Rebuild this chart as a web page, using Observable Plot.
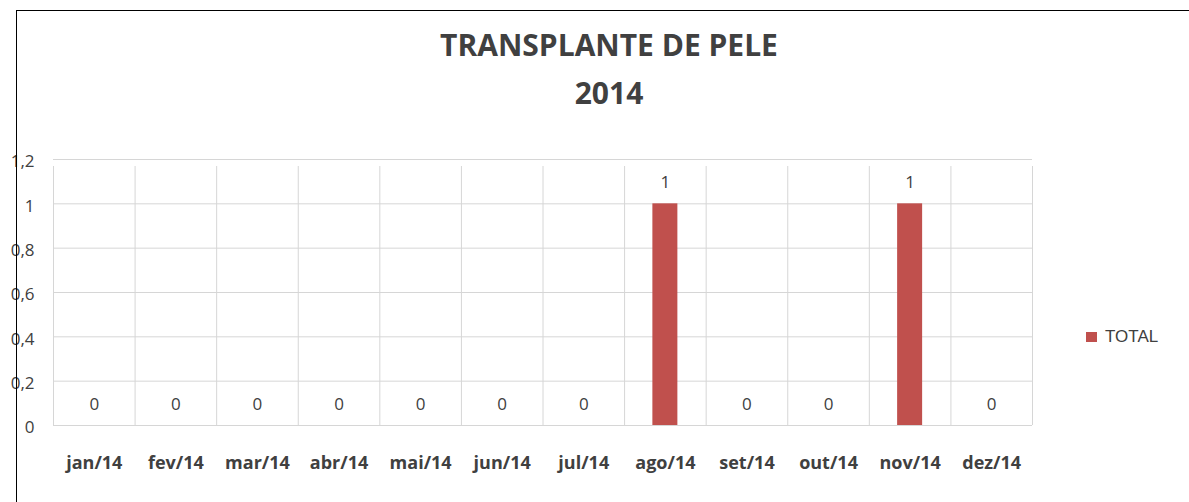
<!DOCTYPE html>
<html>
<head>
<meta charset="utf-8">
<script src="https://cdn.jsdelivr.net/npm/d3@7"></script>
<script src="https://cdn.jsdelivr.net/npm/@observablehq/plot@0.6"></script>
<style>
  html, body { margin: 0; padding: 0; background: #fff; }
  #wrap { position: relative; width: 1189px; height: 502px; overflow: hidden; font-family: "Open Sans", sans-serif; }
  #border { position: absolute; left: 16px; top: 10px; width: 1200px; height: 520px; border-left: 1px solid #000; border-top: 1px solid #000; box-sizing: border-box; pointer-events: none; z-index: 2; }
  .title { position: absolute; left: 0; width: 1218px; text-align: center; font-weight: bold; font-size: 30px; color: #404040; line-height: 1; }
  #legend { position: absolute; left: 1086px; top: 332px; height: 10px; display: flex; align-items: center; font-family: "Liberation Sans", Arial, sans-serif; font-size: 17px; color: #404040; }
  #legend .sw { width: 11px; height: 10px; margin-right: 8px; }
  #chart { position: absolute; left: 0; top: 0; }
</style>
</head>
<body>
<div id="wrap">
  <div id="chart"></div>
  <div class="title" style="top:30px">TRANSPLANTE DE PELE</div>
  <div class="title" style="top:78px">2014</div>
  <div id="legend"></div>
  <div id="border"></div>
</div>
<script>
const months = ["jan/14","fev/14","mar/14","abr/14","mai/14","jun/14","jul/14","ago/14","set/14","out/14","nov/14","dez/14"];
const totals = [0,0,0,0,0,0,0,1,0,0,1,0];
const yTicks = [0,0.2,0.4,0.6,0.8,1,1.2];
const seriesName = "TOTAL";
const barColor = "#C0504D";

const data = months.map((m, i) => ({month: m, total: totals[i]}));

const W = 1189, H = 502;
const mL = 53, mR = W - 1032, mT = 159, mB = H - 425;
const bw = (W - mL - mR) / months.length;
const fmt = v => String(v).replace(".", ",");

const chart = Plot.plot({
  width: W,
  height: H,
  marginLeft: mL,
  marginRight: mR,
  marginTop: mT,
  marginBottom: mB,
  style: {fontFamily: "'Open Sans', sans-serif", color: "#404040", background: "transparent"},
  x: {type: "band", domain: months, padding: 0, round: false, label: null},
  y: {domain: [0, 1.2], label: null},
  marks: [
    Plot.ruleY(yTicks, {y: d => d, stroke: "#d6d6d6", strokeWidth: 1}),
    Plot.ruleX(months, {x: d => d, y1: 0, y2: 1.2, dx: -bw / 2, insetBottom: -7, stroke: "#d6d6d6", strokeWidth: 1}),
    Plot.ruleX([months[months.length - 1]], {x: d => d, y1: 0, y2: 1.2, dx: bw / 2, insetBottom: -7, stroke: "#d6d6d6", strokeWidth: 1}),
    Plot.barY(data, {x: "month", y: "total", fill: barColor, insetLeft: (bw - 25) / 2, insetRight: (bw - 25) / 2}),
    Plot.text(data, {x: "month", y: "total", text: d => fmt(d.total), dy: -21, fontSize: 17, fill: "#404040"}),
    Plot.axisY(yTicks, {tickSize: 0, tickPadding: 19, tickFormat: fmt, fontSize: 17, dy: 2.5, fill: "#404040"}),
    Plot.axisX(months, {tickSize: 0, tickPadding: 31, fontSize: 18, fontWeight: "bold", fill: "#404040"})
  ]
});
document.getElementById("chart").appendChild(chart);

const lg = document.getElementById("legend");
lg.innerHTML = `<div class="sw" style="background:${barColor}"></div><span>${seriesName}</span>`;
</script>
</body>
</html>
